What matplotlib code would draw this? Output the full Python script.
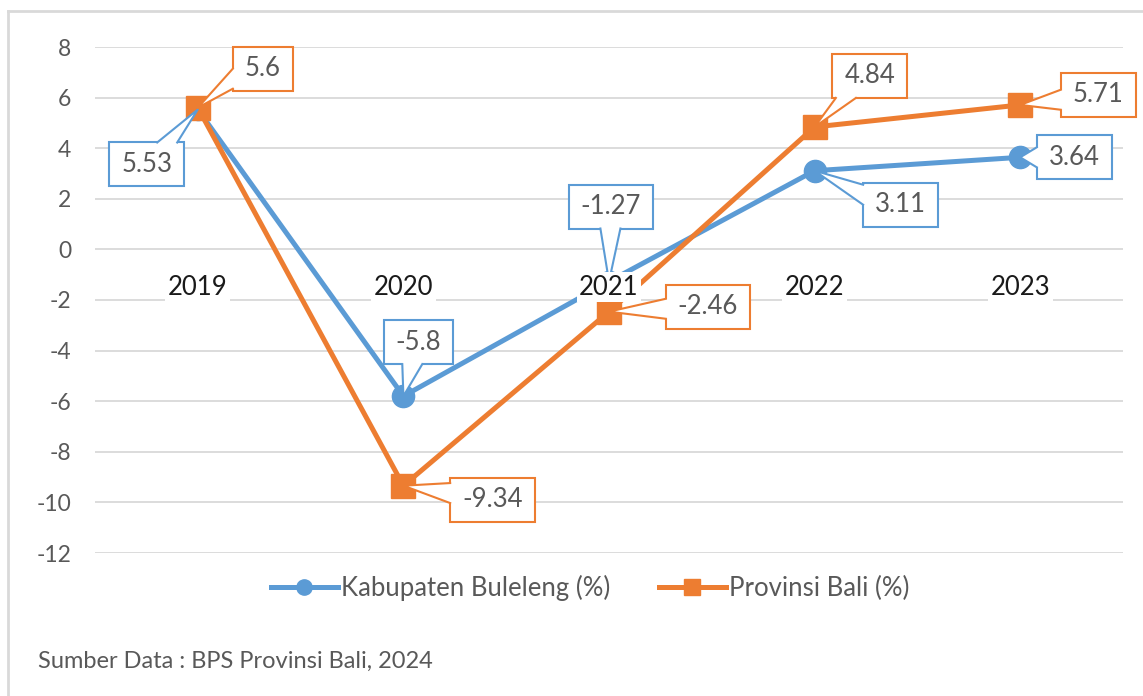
import matplotlib
matplotlib.use('Agg')
import matplotlib.pyplot as plt
from matplotlib.patches import Rectangle, Polygon
from matplotlib.lines import Line2D
from matplotlib.transforms import IdentityTransform
import numpy as np

# ---- data ----
years = ['2019', '2020', '2021', '2022', '2023']
buleleng = [5.53, -5.8, -1.27, 3.11, 3.64]
bali = [5.6, -9.34, -2.46, 4.84, 5.71]
buleleng_labels = ['5.53', '-5.8', '-1.27', '3.11', '3.64']
bali_labels = ['5.6', '-9.34', '-2.46', '4.84', '5.71']
yticks = [8, 6, 4, 2, 0, -2, -4, -6, -8, -10, -12]
series_names = ['Kabupaten Buleleng (%)', 'Provinsi Bali (%)']
source_text = 'Sumber Data : BPS Provinsi Bali, 2024'

# ---- layout / style (pixel offsets of callout box centres) ----
blue_off = [(-51, -55), (15, 54), (2, 75), (86, -34), (54, 0)]
orange_off = [(65, 39), (89, -14), (99, 5), (55, 51), (78, 10)]

BLUE = '#5B9BD5'
ORANGE = '#ED7D31'
GRAY = '#595959'
GRID = '#D9D9D9'

plt.rcParams['font.family'] = ['Lato', 'DejaVu Sans']

W, H = 1143, 696
fig = plt.figure(figsize=(W / 100, H / 100), dpi=100)
ax = fig.add_axes([95 / W, 1 - 553 / H, 1028 / W, 506 / H])

x = np.arange(len(years))
ax.plot(x, buleleng, color=BLUE, lw=3.6, marker='o', ms=16, zorder=3,
        solid_joinstyle='round')
ax.plot(x, bali, color=ORANGE, lw=3.6, marker='s', ms=17, zorder=4,
        solid_joinstyle='round')

ax.set_xlim(-0.5, len(years) - 0.5)
ax.set_ylim(-12, 8)
ax.set_yticks(yticks)
ax.set_yticklabels([str(v) for v in yticks])
ax.tick_params(axis='y', length=0, pad=17, labelsize=16.5, labelcolor=GRAY)
ax.set_xticks([])
for s in ax.spines.values():
    s.set_visible(False)
ax.grid(axis='y', color=GRID, lw=1.3, zorder=0)
ax.set_axisbelow(True)

# category labels at the zero line
for i, yr in enumerate(years):
    ax.annotate(yr, xy=(i, 0), xytext=(0, -38), textcoords='offset pixels',
                ha='center', va='center', fontsize=18.5, color='#1a1a1a',
                zorder=20,
                bbox=dict(boxstyle='square,pad=0.1', fc='white', ec='none'))

# callouts
FS = 18.5
texts = []
for vals, labs, offs, col in [(buleleng, buleleng_labels, blue_off, BLUE),
                              (bali, bali_labels, orange_off, ORANGE)]:
    for i, (v, lab, off) in enumerate(zip(vals, labs, offs)):
        t = ax.annotate(lab, xy=(i, v), xytext=off, textcoords='offset pixels',
                        ha='center', va='center', fontsize=FS, color=GRAY,
                        zorder=12, annotation_clip=False)
        texts.append((t, i, v, col, off))

fig.canvas.draw()
renderer = fig.canvas.get_renderer()
idt = IdentityTransform()
BH = 44
WB = 20
for t, i, v, col, off in texts:
    px, py = ax.transData.transform((i, v))
    cx, cy = px + off[0], py + off[1]
    bb = t.get_window_extent(renderer)
    bw = bb.width + 24
    hw, hh = bw / 2, BH / 2
    rect = Rectangle((cx - hw, cy - hh), bw, BH, transform=idt, fc='white',
                     ec=col, lw=1.5, zorder=9, clip_on=False)
    ax.add_artist(rect)
    dx, dy = px - cx, py - cy
    if abs(dx) * hh > abs(dy) * hw:
        sx = np.sign(dx)
        ex = cx + sx * hw
        ey = cy + dy * (hw / abs(dx))
        ey = min(max(ey, cy - hh + WB / 2 + 2), cy + hh - WB / 2 - 2)
        b1, b2 = (ex, ey - WB / 2), (ex, ey + WB / 2)
        i1, i2 = (ex - sx * 3, ey - WB / 2 + 1), (ex - sx * 3, ey + WB / 2 - 1)
    else:
        sy = np.sign(dy)
        ey = cy + sy * hh
        ex = cx + dx * (hh / abs(dy))
        ex = min(max(ex, cx - hw + WB / 2 + 2), cx + hw - WB / 2 - 2)
        b1, b2 = (ex - WB / 2, ey), (ex + WB / 2, ey)
        i1, i2 = (ex - WB / 2 + 1, ey - sy * 3), (ex + WB / 2 - 1, ey - sy * 3)
    poly = Polygon([i1, b1, (px, py), b2, i2], closed=True, transform=idt,
                   fc='white', ec='none', zorder=10, clip_on=False)
    ax.add_artist(poly)
    ln = Line2D([b1[0], px, b2[0]], [b1[1], py, b2[1]], transform=idt,
                color=col, lw=1.5, zorder=11, clip_on=False)
    ax.add_artist(ln)

# legend
h1 = Line2D([], [], color=BLUE, lw=3.6, marker='o', ms=11)
h2 = Line2D([], [], color=ORANGE, lw=3.6, marker='s', ms=11)
fig.legend([h1, h2], series_names, loc='center',
           bbox_to_anchor=(590 / W, 1 - 588 / H), ncol=2, frameon=False,
           fontsize=18.5, handlelength=2.6, handletextpad=0.12,
           columnspacing=1.9, labelcolor=GRAY)

# source
fig.text(38 / W, 1 - 661 / H, source_text, fontsize=17, color=GRAY,
         ha='left', va='center')

# outer frame (top and left)
fig.add_artist(Line2D([8, W], [H - 11, H - 11], transform=idt, color=GRID, lw=2))
fig.add_artist(Line2D([8, 8], [0, H - 11], transform=idt, color=GRID, lw=2))

fig.savefig('out.png', dpi=100)
